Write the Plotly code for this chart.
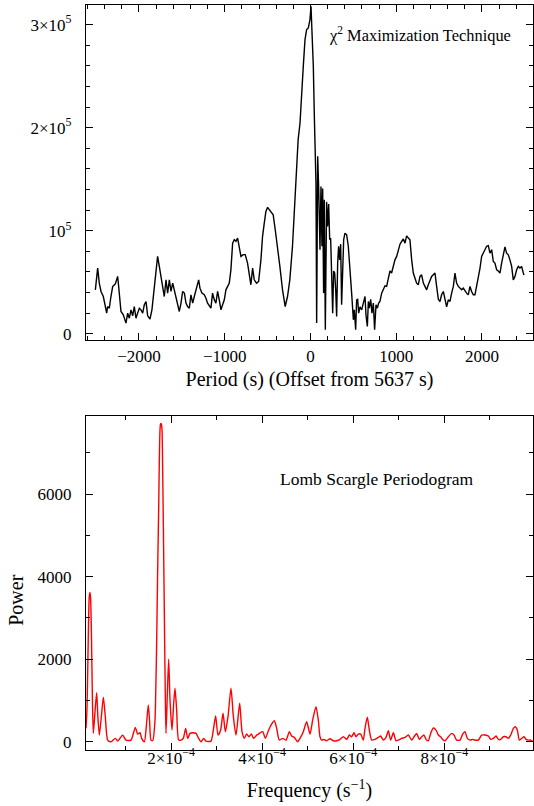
import numpy as np
import plotly.graph_objects as go

# ---- Top panel: chi^2 maximization (period offset from 5637 s) ----
period_offset = [
    -2509, -2482, -2463, -2443, -2416, -2393, -2377, -2366, -2346, -2327, -2307, -2276, -2249, -2237,
    -2210, -2183, -2152, -2132, -2113, -2093, -2074, -2055, -2035, -2016, -1996, -1977, -1957, -1938,
    -1918, -1899, -1872, -1849, -1822, -1802, -1783, -1763, -1744, -1724, -1705, -1685, -1666, -1646,
    -1627, -1607, -1588, -1569, -1549, -1530, -1510, -1491, -1471, -1452, -1433, -1413, -1394, -1374,
    -1355, -1336, -1304, -1289, -1266, -1239, -1219, -1200, -1180, -1161, -1142, -1122, -1103, -1083,
    -1064, -1044, -1025, -1005, -986, -966, -947, -928, -908, -889, -869, -850, -831, -811, -784, -761,
    -734, -714, -695, -675, -656, -629, -605, -578, -559, -539, -520, -500, -481, -462, -435, -411,
    -384, -357, -326, -295, -268, -241, -210, -179, -159, -144,
    -122, -103, -84, -64, -45, -25, -6, 6, 21, 33, 45, 57, 64, 72, 84, 95, 111, 122, 134, 142, 153,
    161, 173, 188, 200, 212, 224, 235, 247, 259, 270, 282, 294, 305, 317, 328, 340, 352, 363, 375,
    387, 402, 422, 441, 461, 480, 500, 511, 527, 538, 550, 562, 577, 597, 616, 636, 647, 663, 675,
    686, 702, 717, 733, 748, 764, 780, 795, 810, 830, 849, 869, 888, 908, 927, 946, 966, 985, 1005,
    1024, 1044, 1063, 1083, 1102, 1121, 1141, 1160, 1180, 1199, 1219, 1238, 1257, 1277, 1296, 1316,
    1335, 1355, 1374, 1393, 1413, 1432, 1452, 1471, 1491, 1510, 1529, 1549, 1568, 1588, 1607, 1627,
    1646, 1666, 1685, 1704, 1724, 1743, 1763, 1782, 1802, 1821, 1840, 1860, 1879, 1899, 1918, 1938,
    1957, 1977, 1996, 2015, 2035, 2054, 2074, 2093, 2113, 2132, 2151, 2171, 2190, 2210, 2229, 2249,
    2268, 2287, 2307, 2326, 2346, 2365, 2385, 2404, 2423, 2443, 2462, 2482, 2490,
]
chi2_value = [
    42700, 63800, 49200, 41100, 36200, 26500, 20100, 26500, 24900, 36200, 45900, 48500, 55700, 45900,
    21700, 18400, 10400, 20100, 15200, 23300, 17500, 26500, 15200, 20100, 24900, 23300, 20100, 28200,
    31400, 17500, 14200, 23300, 42700, 58900, 75100, 65400, 55700, 45900, 36200, 52400, 39500, 52400,
    41100, 49200, 42700, 36200, 29800, 21700, 29800, 41100, 39500, 29800, 26500, 24900, 37900, 29800,
    36200, 42700, 52400, 44300, 39500, 37900, 34600, 29800, 26500, 24900, 39500, 33000, 29800, 41100,
    33000, 23300, 28200, 33000, 42700, 45900, 49200, 62100, 88000, 91300, 89700, 92900, 84800, 75100,
    76800, 76800, 68600, 58900, 47600, 63800, 52400, 49200, 50800, 71800, 94500, 107400, 118800,
    122700, 120400, 117800, 115500, 101000, 84800, 65400, 42700, 26500, 36200, 52400, 84800, 130100,
    169000, 188400,
    204500, 227200, 259500, 285400, 295200, 296800, 304900, 317800, 291900, 259500, 211000, 172200,
    146300, 10400, 172200, 143000, 81600, 143000, 85000, 141000, 39500, 130100, 3900, 128000, 104200,
    126000, 91300, 93000, 58900, 20100, 61000, 59000, 42700, 16800, 68600, 85000, 71800, 87000, 28200,
    68600, 91300, 97700, 96000, 85000, 65400, 39500, 13600, 23300, 3900, 33000, 33500, 20100, 26200,
    23300, 29800, 36200, 18500, 7100, 31400, 24900, 33500, 20100, 29800, 3900, 28200, 24900, 29800,
    31400, 39500, 42700, 46600, 46000, 55700, 61000, 59000, 67000, 71800, 75100, 81600, 87000, 89600,
    92000, 88000, 95100, 93000, 91300, 71800, 59000, 54000, 49200, 47600, 55700, 57300, 49200, 46000,
    42700, 47600, 52400, 55700, 57300, 59000, 46000, 33500, 31400, 37900, 41100, 33000, 26200, 33000,
    31400, 39500, 46000, 59000, 49200, 46000, 44300, 42700, 44300, 41100, 39500, 37900, 46000, 41100,
    37900, 37900, 46000, 54000, 63800, 75100, 78300, 83200, 85000, 85500, 78300, 81600, 70200, 68600,
    62200, 61000, 59000, 68600, 78300, 84300, 78300, 76700, 71800, 65400, 52400, 55700, 62200, 65400,
    63800, 65400, 59000, 57000,
]
top_ytick_vals = [0, 100000, 200000, 300000]
top_ytick_text = ["0", "10<sup>5</sup>", "2×10<sup>5</sup>", "3×10<sup>5</sup>"]
top_xtick_vals = [-2000, -1000, 0, 1000, 2000]
top_xtick_text = ["−2000", "−1000", "0", "1000", "2000"]

# ---- Bottom panel: Lomb-Scargle periodogram ----
freq_uHz = [
    13.4, 15.6, 18.5, 20.5, 22.2, 23.6, 25.5, 27.5, 29.5, 33, 36.8, 39.5, 42.7, 47, 51.5, 55.8, 61,
    68.3, 77.8, 83, 93.9, 101.2, 112.2, 121.7, 126.8, 132, 135.6, 141.5, 146, 150.2, 153, 156.1, 160,
    164.9, 166.5, 168.5, 170.5, 172.9, 174.5, 175.9, 177, 178.1, 179.2, 180.3, 181.8, 183.2, 184.7,
    186.1, 187.5, 189, 192, 194.9, 197.8, 202.2, 205.9, 208.8, 212.4, 216.8, 222, 227, 232.2, 236.6,
    241.7, 247.6, 254.9, 260.7, 265.9, 271.7, 276.8, 287.8, 292.9, 298, 303.2, 309, 314.2, 319.3,
    325.1, 331.7, 336.9, 342.7, 350.8, 355.9, 361, 366.1, 371.2, 376.4, 381.5, 388.1, 393.9, 401.3,
    407.1, 414.4, 419.6, 426.9, 432, 437.8, 445.2, 452.5, 459.8, 464.9, 470.8, 478.1, 483.2, 490.5,
    497.8, 505.2, 511, 518.3, 523.4, 527.1, 530.8, 535.9, 541.7, 549.1, 556.4, 563.7, 571, 578.3,
    585.7, 591.5, 596.6, 601.8, 606.1, 611.3, 616.4, 622.2, 625.9, 631, 635.4, 640.5, 647.8, 655.2,
    660.3, 666.2, 672, 677.1, 682.2, 688.1, 694, 699.1, 706.4, 713.7, 721, 728.4, 733.5, 739.3,
    745.2, 750.3, 755.4, 759.8, 764.9, 770.1, 775.9, 781.8, 786.9, 792, 796.4, 801.5, 808.9, 816.2,
    821.3, 827.1, 834.5, 840.3, 845.4, 850.6, 856.4, 862.3, 867.4, 874.7, 882, 889.3, 896.7, 901.8,
    907.6, 913.5, 918.6, 923.8, 929.6, 935.4, 940.6, 945.7, 951.6, 955.9, 960.3, 964.7, 969.8, 975,
    979.4, 984.5, 989.6, 995.4,
]
power = [
    325, 800, 2600, 3500, 3616, 3450, 2500, 1000, 204, 700, 1189, 600, 160, 600, 1077, 607, 40,
    0, 82, 16, 160, 40, 40, 348, 186, 218, 82, 0, 400, 890, 500, 40, 30,
    526, 1200, 2388, 4000, 5623, 6900, 7565, 7700, 7711, 7680, 7565, 6500, 5218, 3800,
    2388, 1100, 204, 1175, 2000, 1012, 284, 932, 1296, 769, 40, 40, 82, 325, 82,
    204, 218, 204, 82, 0, 82, 16, 16, 284, 624, 160, 284, 689, 243,
    607, 1296, 607, 160, 932, 243, 82, 186, 121, 186, 82, 160, 204, 243,
    82, 284, 405, 510, 325, 40, 82, 40, 243, 138, 105, 0, 82, 243,
    485, 187, 527, 850, 527, 121, 40, 57, 24, 73, 24, 24, 57, 121,
    57, 162, 121, 218, 121, 186, 186, 40, 325, 592, 283, 40, 57, 105,
    138, 40, 105, 267, 40, 218, 24, 40, 81, 105, 162, 40, 121, 202,
    57, 121, 162, 57, 24, 202, 332, 283, 162, 121, 57, 24, 121, 202,
    162, 40, 40, 186, 243, 82, 40, 57, 40, 40, 162, 162, 138, 57,
    82, 138, 57, 57, 121, 121, 82, 162, 323, 364, 283, 40, 82, 121,
    57, 40, 40, 0,
]
bot_ytick_vals = [0, 2000, 4000, 6000]
bot_xtick_vals = [2e-4, 4e-4, 6e-4, 8e-4]
bot_xtick_text = ["2×10<sup>−4</sup>", "4×10<sup>−4</sup>", "6×10<sup>−4</sup>", "8×10<sup>−4</sup>"]

FONT = "Liberation Serif, Times New Roman, serif"
freq = np.array(freq_uHz) * 1e-6

fig = go.Figure()
fig.add_trace(go.Scatter(x=period_offset, y=chi2_value, mode="lines",
                         line=dict(color="black", width=1.4), xaxis="x", yaxis="y",
                         showlegend=False, hoverinfo="skip"))
fig.add_trace(go.Scatter(x=freq, y=power, mode="lines",
                         line=dict(color="#ff0000", width=1.4, shape="spline", smoothing=0.6),
                         xaxis="x2", yaxis="y2", showlegend=False, hoverinfo="skip"))

axis_common = dict(showline=True, linecolor="black", linewidth=1.2, mirror="ticks",
                   ticks="inside", ticklen=7, tickwidth=1.2, tickcolor="black",
                   showgrid=False, zeroline=False,
                   tickfont=dict(family=FONT, size=17, color="black"))

fig.update_layout(
    width=534, height=806,
    margin=dict(l=86, r=1, t=5, b=56),
    paper_bgcolor="white", plot_bgcolor="white",
    font=dict(family=FONT, color="black"),
    xaxis=dict(domain=[0, 1], range=[-2618, 2595], anchor="y",
               tickmode="array", tickvals=top_xtick_vals, ticktext=top_xtick_text,
               minor=dict(tickvals=list(np.arange(-2600, 2601, 200)), ticklen=4, ticks="inside",
                          tickcolor="black", tickwidth=1.2),
               title=dict(text="Period (s) (Offset from 5637 s)", font=dict(family=FONT, size=20),
                          standoff=7),
               ticklabelstandoff=0,
               **axis_common),
    yaxis=dict(domain=[0.5503, 1], range=[-6000, 319000], anchor="x",
               tickmode="array", tickvals=top_ytick_vals, ticktext=top_ytick_text,
               minor=dict(tickvals=list(np.arange(0, 320001, 20000)), ticklen=4, ticks="inside",
                          tickcolor="black", tickwidth=1.2),
               ticklabelstandoff=10,
               **axis_common),
    xaxis2=dict(domain=[0, 1], range=[13.4e-6, 994.7e-6], anchor="y2",
                tickmode="array", tickvals=bot_xtick_vals, ticktext=bot_xtick_text,
                minor=dict(tickvals=list(np.arange(1e-4, 1e-3, 1e-4)), ticklen=4, ticks="inside",
                           tickcolor="black", tickwidth=1.2),
                title=dict(text="Frequency (s<sup>−1</sup>)", font=dict(family=FONT, size=20),
                           standoff=16),
                ticklabelstandoff=-8,
                **axis_common),
    yaxis2=dict(domain=[0, 0.4487], range=[-200, 7900], anchor="x2",
                tickmode="array", tickvals=bot_ytick_vals,
                ticktext=[str(v) for v in bot_ytick_vals],
                minor=dict(tickvals=list(np.arange(0, 7901, 1000)), ticklen=4, ticks="inside",
                           tickcolor="black", tickwidth=1.2),
                ticklabelstandoff=10,
                **axis_common),
    annotations=[
        dict(text="χ<sup>2</sup> Maximization Technique", x=189, y=290300, xref="x", yref="y",
             xanchor="left", yanchor="middle", showarrow=False,
             font=dict(family=FONT, size=16.4, color="black")),
        dict(text="Lomb Scargle Periodogram", x=435.6e-6, y=6376, xref="x2", yref="y2",
             xanchor="left", yanchor="middle", showarrow=False,
             font=dict(family=FONT, size=17.5, color="black")),
        dict(text="Power", x=-0.1566, y=3440, xref="paper", yref="y2",
             xanchor="center", yanchor="middle", textangle=-90, showarrow=False,
             font=dict(family=FONT, size=20, color="black")),
    ],
)

fig.write_html("out.html")
